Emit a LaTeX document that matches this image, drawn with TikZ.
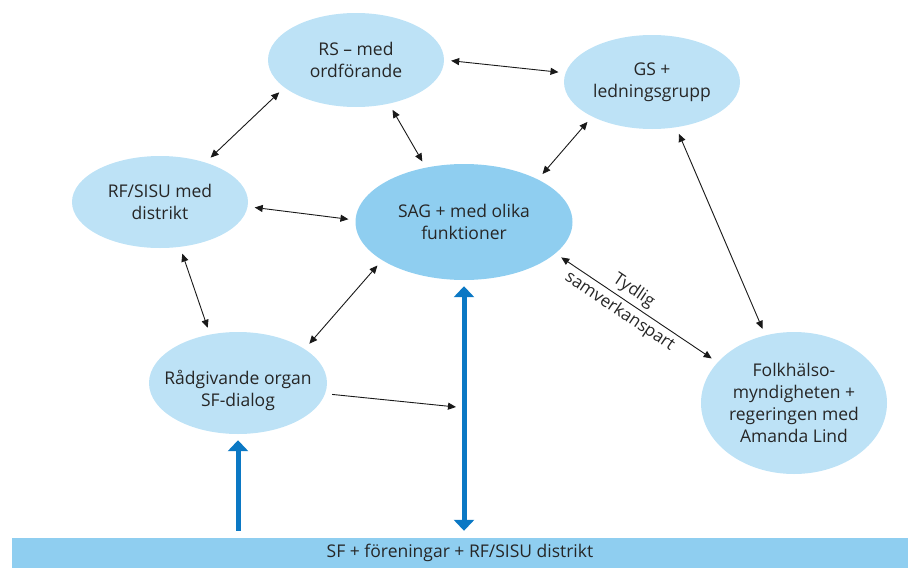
\documentclass[tikz,border=0pt]{standalone}
\usepackage{fontspec}
\setmainfont{Open Sans}
\usetikzlibrary{arrows.meta,shapes.geometric}
\definecolor{lightb}{HTML}{BDE2F6}
\definecolor{midb}{HTML}{8FCEF0}
\definecolor{darkb}{HTML}{0B78C4}
\definecolor{txt}{HTML}{262626}
\begin{document}
\begin{tikzpicture}[x=1pt,y=-1pt,
  every node/.style={font=\fontsize{17.5}{22}\selectfont, text=txt},
  bub/.style={ellipse, fill=lightb, inner sep=0pt, align=center},
  link/.style={draw=black!90, line width=0.9pt, {Triangle[length=8pt,width=7pt]}-{Triangle[length=8pt,width=7pt]}, shorten <=7pt, shorten >=7pt},
  onelink/.style={draw=black!90, line width=0.9pt, -{Triangle[length=8pt,width=7pt]}, shorten <=7pt},
  bluearr/.style={draw=darkb, line width=5pt, -{Triangle[length=11pt,width=20pt]}, shorten <=7pt, shorten >=6pt},
  bluedbl/.style={draw=darkb, line width=5pt, {Triangle[length=11pt,width=20pt]}-{Triangle[length=11pt,width=20pt]}, shorten <=6pt, shorten >=7pt}
]
\useasboundingbox (0,0) rectangle (908,568);
\node[bub, minimum width=176pt, minimum height=94pt] (rs) at (356,60) {RS – med\\ordförande};
\node[bub, minimum width=176pt, minimum height=94pt] (gs) at (652,82) {GS +\\ledningsgrupp};
\node[bub, minimum width=176pt, minimum height=92pt] (rf) at (160,202) {RF/SISU med\\distrikt};
\node[bub, fill=midb, minimum width=217pt, minimum height=116pt] (sag) at (464,222) {SAG + med olika\\funktioner};
\node[bub, minimum width=178pt, minimum height=102pt] (rad) at (238,383) {};
\node[align=center, inner sep=0pt] (radtext) at (238,390) {Rådgivande organ\\SF-dialog};
\node[bub, minimum width=186pt, minimum height=142pt] (folk) at (794,403) {Folkhälso-\\myndigheten +\\regeringen med\\Amanda Lind};
\node[fill=midb, minimum width=896pt, minimum height=30pt, inner sep=0pt] (bar) at (460,553) {SF + föreningar + RF/SISU distrikt};
\coordinate (tip) at (456,407);

\draw[link] (rs.0) -- (gs.174);
\draw[link] (rs.-53) -- (sag.125);
\draw[link] (gs.210) -- (sag.30);
\draw[link] (rs.201) -- (rf.41);
\draw[link] (rf.-3) -- (sag.179);
\draw[link] (rf.-66) -- (rad.120);
\draw[link] (sag.205) -- (rad.27);
\draw[link] (gs.-62) -- (folk.113);
\draw[link] (sag.-19) -- (folk.152)
  node[sloped, pos=0.44, align=center, font=\fontsize{17}{25}\selectfont] {Tydlig\\samverkanspart};
\draw[onelink] (rad.-7) -- (tip);

\draw[bluearr] (rad.south |- bar.north) -- (rad.south);
\draw[bluedbl] (sag.south) -- (sag.south |- bar.north);
\end{tikzpicture}
\end{document}
